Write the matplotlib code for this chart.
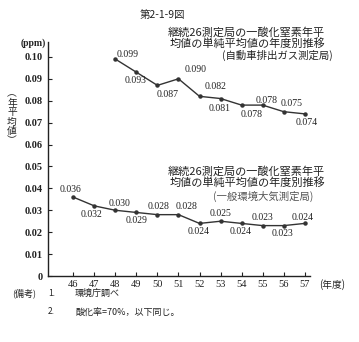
import matplotlib
matplotlib.use("Agg")
import matplotlib.pyplot as plt

plt.rcParams['font.family'] = ['Noto Sans CJK JP', 'DejaVu Sans']

# 自動車排出ガス測定局 (昭和48-57年度)
jihai_years = [48, 49, 50, 51, 52, 53, 54, 55, 56, 57]
jihai_no = [0.099, 0.093, 0.087, 0.090, 0.082, 0.081, 0.078, 0.078, 0.075, 0.074]
# label offsets in px (dx, dy down)
jihai_off = [(12, -5), (-1, 8), (10, 9), (17, -9), (16, -10), (-1, 10),
             (10, 9), (4, -5), (8, -8), (2, 9)]

# 一般環境大気測定局 (昭和46-57年度)
ippan_years = [46, 47, 48, 49, 50, 51, 52, 53, 54, 55, 56, 57]
ippan_no = [0.036, 0.032, 0.030, 0.029, 0.028, 0.028, 0.024, 0.025, 0.024,
            0.023, 0.023, 0.024]
ippan_off = [(-3, -8), (-3, 9), (4, -7), (0, 8), (1, -8), (8, -8), (-1, 8),
             (0, -8), (-1, 8), (0, -8), (-1, 8), (-2, -6)]

year_ticks = list(range(46, 58))
y_ticks = [0, 0.01, 0.02, 0.03, 0.04, 0.05, 0.06, 0.07, 0.08, 0.09, 0.10]
y_ticklabels = ["0"] + ["%.2f" % v for v in y_ticks[1:]]

W, H = 359, 342
fig = plt.figure(figsize=(W / 100, H / 100), dpi=100)
ax = fig.add_axes([48 / W, 1 - 276 / H, (310 - 48) / W, (276 - 42) / H])

ink = "#222222"
num_font = "Liberation Serif"

ax.plot(jihai_years, jihai_no, color="#333333", lw=1.0, marker="o", ms=2.2)
ax.plot(ippan_years, ippan_no, color="#333333", lw=1.0, marker="o", ms=2.2)

for xs, ys, offs in [(jihai_years, jihai_no, jihai_off),
                     (ippan_years, ippan_no, ippan_off)]:
    for x, y, (dx, dy) in zip(xs, ys, offs):
        ax.annotate("%.3f" % y, (x, y), xytext=(dx * 0.72, -dy * 0.72),
                    textcoords="offset points", ha="center", va="center",
                    fontsize=7, family=num_font, color=ink)

ax.set_xlim(44.8, 57.25)
ax.set_ylim(0, 0.1068)
ax.set_xticks(year_ticks)
ax.set_xticklabels([str(v) for v in year_ticks], family=num_font,
                   fontsize=7.5, color=ink)
ax.set_yticks(y_ticks)
ax.set_yticklabels(y_ticklabels, family=num_font, fontsize=7.5,
                   fontweight="bold", color=ink)
ax.tick_params(direction="in", length=3, width=0.8, colors=ink, pad=4)
ax.tick_params(axis="x", pad=3)
for s in ["top", "right"]:
    ax.spines[s].set_visible(False)
for s in ["left", "bottom"]:
    ax.spines[s].set_color(ink)
    ax.spines[s].set_linewidth(1.0)


def ftext(x, y, s, **kw):
    kw.setdefault("color", ink)
    fig.text(x / W, 1 - y / H, s, **kw)


ftext(162, 15, "第2-1-9図", ha="center", va="center", fontsize=7.5)
ftext(33, 43, "(ppm)", ha="center", va="center", fontsize=7,
      family=num_font, fontweight="bold")
# vertical axis title, one character per row
for i, ch in enumerate(["︵", "年", "平", "均", "値", "︶"]):
    ftext(12, 93 + i * 9.5, ch, ha="center", va="center", fontsize=7)
ftext(332, 285, "(年度)", ha="center", va="center", fontsize=7)

ftext(325, 38, "継続26測定局の一酸化窒素年平\n均値の単純平均値の年度別推移",
      ha="right", va="center", fontsize=8, linespacing=1.0)
ftext(333, 55, "(自動車排出ガス測定局)", ha="right", va="center", fontsize=7.5)
ftext(325, 177, "継続26測定局の一酸化窒素年平\n均値の単純平均値の年度別推移",
      ha="right", va="center", fontsize=8, linespacing=1.0)
ftext(313, 196, "(一般環境大気測定局)", ha="right", va="center", fontsize=7.5,
      color="#555555")

ftext(12, 293, "(備考)", ha="left", va="center", fontsize=6.5)
ftext(48, 293, "1.", ha="left", va="center", fontsize=6)
ftext(75, 293, "環境庁調べ", ha="left", va="center", fontsize=6.5)
ftext(48, 312, "2.", ha="left", va="center", fontsize=6)
ftext(75, 312, "酸化率=70%，以下同じ。", ha="left", va="center", fontsize=6.5)

fig.savefig("out.png", dpi=100, facecolor="white")
